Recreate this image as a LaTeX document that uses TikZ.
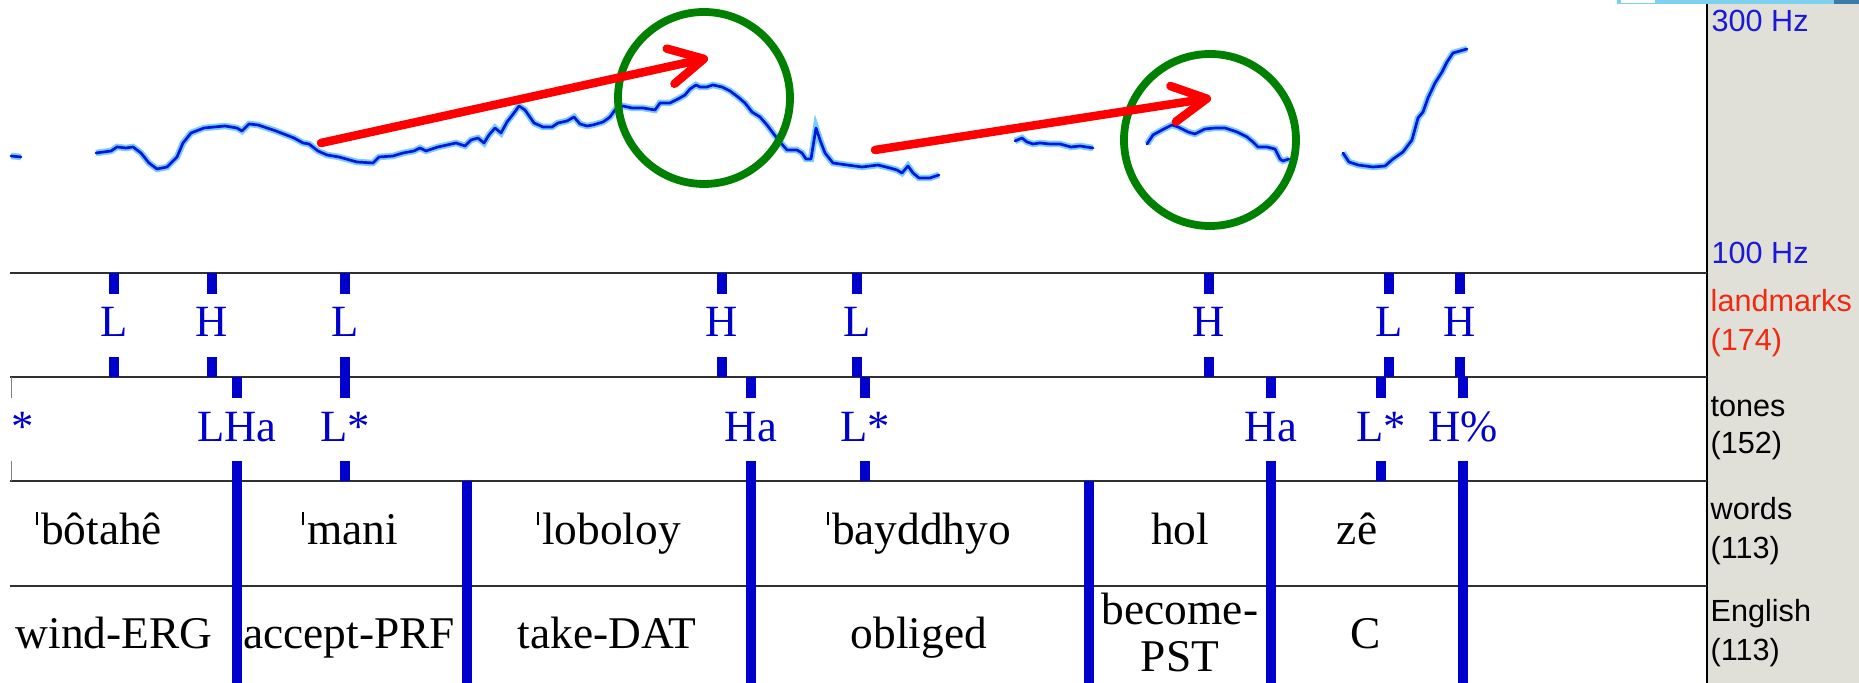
\documentclass[tikz,border=0pt]{standalone}
\usepackage{fontspec}
\setmainfont{Liberation Serif}
\newfontfamily\sidefont{Liberation Sans}
\usepackage{xcolor}
\usepackage{tikz}
\usetikzlibrary{arrows.meta}
\definecolor{tierblue}{HTML}{0000CC}
\definecolor{fzlight}{HTML}{7CCBFF}
\definecolor{fzdark}{HTML}{0018D8}
\definecolor{ringgreen}{HTML}{008000}
\definecolor{arrred}{HTML}{FF0000}
\definecolor{panelbg}{HTML}{E0E0D9}
\definecolor{rowgray}{HTML}{303030}
\definecolor{hzblue}{HTML}{1A1AD6}
\definecolor{lmred}{HTML}{EE2A12}
\definecolor{barblue}{HTML}{7DD0EE}
\definecolor{bardark}{HTML}{3A7AA8}
\newcommand{\stress}{\rule[0.45em]{0.05em}{0.28em}\kern0.06em}
\tikzset{
  rowln/.style={draw=rowgray, line width=0.028cm},
  tck/.style={draw=tierblue, line width=0.1cm},
  fz/.style={draw=fzdark, line width=0.027cm, line cap=round, line join=round,
    preaction={draw=fzlight, line width=0.065cm}},
  ring/.style={draw=ringgreen, line width=0.078cm},
  arr/.style={draw=arrred, line width=0.085cm, line cap=round, line join=round,
    -{Straight Barb[length=3.4mm,width=3.6mm,round]}},
  lab/.style={text=tierblue, font=\fontsize{12.7}{15}\selectfont, inner sep=0pt, anchor=base},
  wrd/.style={text=black, font=\fontsize{12.9}{15}\selectfont, inner sep=0pt, anchor=base},
  side/.style={text=hzblue, font=\sidefont\fontsize{8.7}{10}\selectfont, inner sep=0pt, anchor=base west},
}

\begin{document}
\begin{tikzpicture}[x=0.01cm, y=-0.01cm]
  \useasboundingbox (0,0) rectangle (1859,683);
  % side panel
  \fill[panelbg] (1708,0) rectangle (1859,683);
  \fill[barblue] (1617,0) rectangle (1834,4);
  \fill[white] (1621,0) rectangle (1655,3);
  \fill[bardark] (1834,0) rectangle (1859,4);
  \draw[black, line width=0.022cm] (1707,4) -- (1707,683);
  \node[side] (hz3) at (1711,32) {300 Hz};
  \node[side] (hz1) at (1711,264) {100 Hz};
  \node[side, text=lmred] (tlm) at (1710,312) {landmarks};
  \node[side, text=lmred] (tlmn) at (1710,351) {(174)};
  \node[side, text=black] (ttn) at (1710,417) {tones};
  \node[side, text=black] (ttnn) at (1710,454) {(152)};
  \node[side, text=black] (twd) at (1710,520) {words};
  \node[side, text=black] (twdn) at (1710,559) {(113)};
  \node[side, text=black] (ten) at (1710,622) {English};
  \node[side, text=black] (tenn) at (1710,661) {(113)};

  % pitch track
  \draw[fz] plot coordinates {(11,156) (21,157)};
  \draw[fz] plot coordinates {(96,153) (111,151) (117,147) (126,148) (133,147) (141,153)
    (149,163) (157,169) (167,167) (177,157) (183,143) (191,133) (204,128) (225,126)
    (237,128) (242,131) (249,124) (258,125) (276,131) (294,138) (303,143) (309,144)
    (318,151) (327,155) (339,157) (357,162) (373,163) (379,157) (393,156) (403,153)
    (414,151) (420,148) (426,151) (438,147) (456,143) (465,146) (471,140) (478,138)
    (484,143) (489,135) (495,128) (501,133) (507,122) (514,113) (519,106) (525,110)
    (534,123) (543,127) (552,127) (558,123) (567,121) (574,117) (580,124) (587,126)
    (593,125) (603,122) (610,117) (615,110) (623,106) (632,108) (643,108) (655,110)
    (660,103) (670,103) (678,99) (685,95) (690,89) (696,85) (700,87) (707,87)
    (713,85) (722,87) (730,91) (738,97) (745,103) (752,112) (760,117) (767,125)
    (773,133) (780,142) (787,150) (797,150) (802,153) (806,159) (811,159) (816,128)
    (820,140) (825,153) (833,163) (847,165) (862,167) (878,165) (890,168) (897,170)
    (902,173) (908,166) (913,173) (919,178) (930,178) (939,175)};
  \draw[fz] plot coordinates {(1015,141) (1022,138) (1027,142) (1033,144) (1040,143)
    (1050,144) (1060,144) (1071,147) (1080,146) (1093,148)};
  \draw[fz] plot coordinates {(1147,144) (1153,135) (1162,130) (1172,125) (1178,127)
    (1188,132) (1195,134) (1205,129) (1215,128) (1225,128) (1237,132) (1247,137)
    (1253,142) (1258,147) (1267,147) (1275,149) (1280,159) (1283,161) (1289,159)};
  \draw[fz] plot coordinates {(1343,153) (1349,162) (1358,165) (1373,167) (1385,166)
    (1393,159) (1403,152) (1412,140) (1418,118) (1423,112) (1428,98) (1435,83)
    (1442,72) (1447,62) (1453,53) (1460,51) (1467,49)};

  % circles and arrows
  \coordinate (c1) at (704,98);
  \coordinate (c2) at (1210,140);
  \draw[ring] (c1) circle[radius=86];
  \draw[ring] (c2) circle[radius=86];
  \coordinate (a1s) at (321,143);
  \coordinate (a1e) at (708,58);
  \coordinate (a2s) at (875,150);
  \coordinate (a2e) at (1211,98);
  \draw[arr] (a1s) -- (a1e);
  \draw[arr] (a2s) -- (a2e);

  % tiers
  \foreach \y in {273,377,481,586} \draw[rowln] (10,\y) -- (1707,\y);
  \draw[gray, line width=0.01cm] (11,377) -- (11,398) (11,461) -- (11,481);
  \foreach \x/\t [count=\i] in {114/L,212/H,345/L,722/H,857/L,1209/H,1389/L,1460/H}{
    \draw[tck] (\x,273) -- (\x,294) (\x,357) -- (\x,377);
    \node[lab] (lm\i) at (\x,337) {\t};
  }
  \node[lab, anchor=base west] (tn0) at (11,442) {*};
  \foreach \x/\t [count=\i] in {237/LHa,345/L*,751/Ha,865/L*,1271/Ha,1381/L*,1463/H\%}{
    \draw[tck] (\x,377) -- (\x,398) (\x,461) -- (\x,481);
    \node[lab] (tn\i) at (\x,442) {\t};
  }
  \foreach \x in {237,467,751,1089,1271,1463} \draw[tck] (\x,481) -- (\x,683);

  % words and glosses
  \node[wrd] (w1) at (99,545) {\stress bôtahê};
  \node[wrd] (w2) at (350,545) {\stress mani};
  \node[wrd] (w3) at (609,545) {\stress loboloy};
  \node[wrd] (w4) at (919,545) {\stress bayddhyo};
  \node[wrd] (w5) at (1180,545) {hol};
  \node[wrd] (w6) at (1357,545) {zê};
  \node[wrd] (e1) at (114,649) {wind-ERG};
  \node[wrd] (e2) at (349,649) {accept-PRF};
  \node[wrd] (e3) at (607,649) {take-DAT};
  \node[wrd] (e4) at (919,649) {obliged};
  \node[wrd] (e5a) at (1180,625) {become-};
  \node[wrd] (e5b) at (1180,672) {PST};
  \node[wrd] (e6) at (1366,649) {C};
\end{tikzpicture}
\end{document}
